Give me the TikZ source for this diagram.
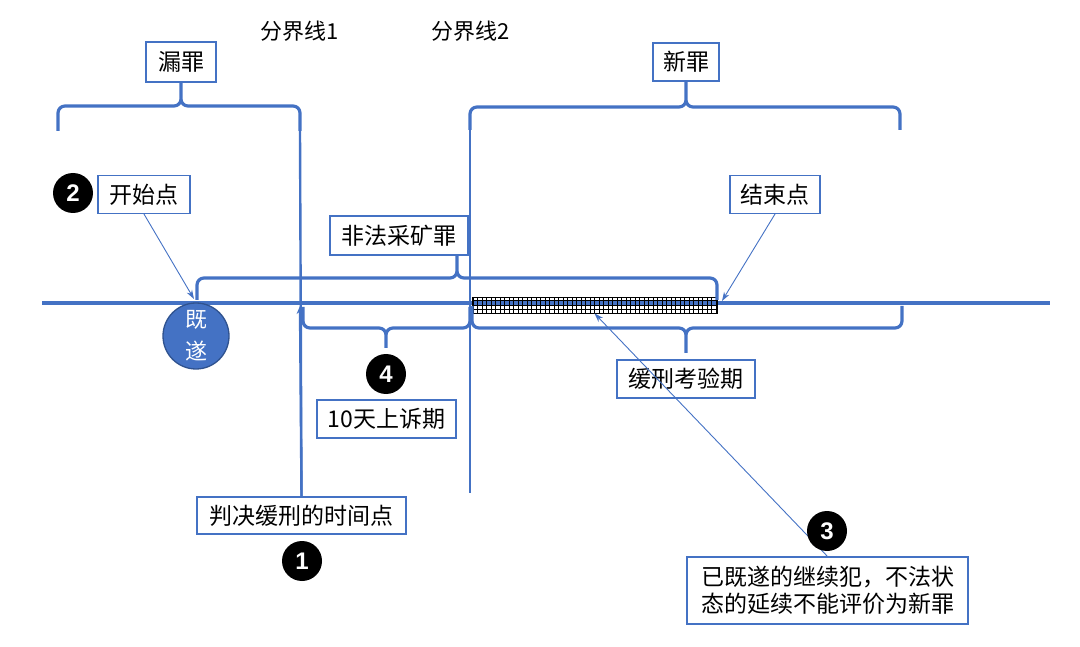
\documentclass[tikz,border=0pt]{standalone}
\usepackage{fontspec}
\setmainfont{Noto Sans CJK SC}
\newfontfamily\numfont{Liberation Sans}
\usetikzlibrary{arrows.meta}
\definecolor{lineblue}{HTML}{4472C4}
\definecolor{darkblue}{HTML}{2F528F}
\tikzset{
  box/.style={draw=lineblue, line width=1.1pt, fill=white, inner xsep=8, inner ysep=0, minimum height=38, font=\fontsize{23}{27}\selectfont},
  num/.style={circle, fill=black, minimum size=40, inner sep=0, text=white, font=\numfont\bfseries\fontsize{24}{24}\selectfont},
  brc/.style={draw=lineblue, line width=3.2pt, rounded corners=7pt},
  vline/.style={draw=lineblue, line width=2.4pt},
  ptr/.style={draw=lineblue, line width=0.9pt, -{Stealth[length=9pt,width=6pt]}},
}
\begin{document}
\begin{tikzpicture}[x=1pt,y=-1pt]
  \useasboundingbox (0,0) rectangle (1080,647);

  % time axis
  \coordinate (ml) at (42,303);
  \coordinate (mr) at (1050,303);
  \draw[lineblue, line width=3.8pt] (ml) -- (mr);

  % labels and boxes
  \node[font=\fontsize{22}{22}\selectfont] (fj1) at (300,31) {分界线1};
  \node[font=\fontsize{22}{22}\selectfont] (fj2) at (471,31) {分界线2};
  \node[box, minimum width=70, minimum height=40] (lz) at (181,62) {漏罪};
  \node[box, minimum width=66] (xz) at (686,62) {新罪};
  \node[box, minimum width=92] (ksd) at (144,194.5) {开始点};
  \node[box, minimum width=90] (jsd) at (775,194.5) {结束点};
  \node[box, minimum width=138, minimum height=39] (ffck) at (399,235.5) {非法采矿罪};
  \node[box, minimum width=139] (sscq) at (386.5,419) {10天上诉期};
  \node[box, minimum width=138] (hxkyq) at (686,379) {缓刑考验期};
  \node[box, minimum width=209, minimum height=37] (pjsj) at (301.5,515.5) {判决缓刑的时间点};
  \node[box, minimum width=281, minimum height=67, align=left] (jxf) at (827.5,590.5)
    {已既遂的继续犯，不法状\\态的延续不能评价为新罪};

  % probation span
  \node[draw=black, line width=0.8pt, minimum width=245, minimum height=16, inner sep=0,
    path picture={\draw[black, line width=0.5pt, step=4.5pt]
      (path picture bounding box.south west) grid (path picture bounding box.north east);}]
    (hatch) at (594.5,305) {};

  % braces
  \coordinate (lzL) at (58,131);
  \coordinate (lzR) at (300,131);
  \coordinate (lzbar) at (0,106);
  \draw[brc] (lzL) |- (lz.south |- lzbar) -- (lz.south)
             (lzR) |- (lz.south |- lzbar) -- (lz.south);

  \coordinate (xzL) at (470,130);
  \coordinate (xzR) at (900,130);
  \coordinate (xzbar) at (0,107);
  \draw[brc] (xzL) |- (xz.south |- xzbar) -- (xz.south)
             (xzR) |- (xz.south |- xzbar) -- (xz.south);

  \coordinate (ffL) at (197,300);
  \coordinate (ffR) at (717,300);
  \coordinate (fftip) at (457,255);
  \coordinate (ffbar) at (0,278);
  \draw[brc] (ffL) |- (fftip |- ffbar) -- (fftip)
             (ffR) |- (fftip |- ffbar) -- (fftip);

  \coordinate (ssL) at (303,307);
  \coordinate (ssR) at (470,307);
  \coordinate (sstip) at (386,348);
  \coordinate (ssbar) at (0,328);
  \draw[brc] (ssL) |- (sstip |- ssbar) -- (sstip)
             (ssR) |- (sstip |- ssbar) -- (sstip);

  \coordinate (hxL) at (472,306);
  \coordinate (hxR) at (902,306);
  \coordinate (hxtip) at (686,353);
  \coordinate (hxbar) at (0,328);
  \draw[brc] (hxL) |- (hxtip |- hxbar) -- (hxtip)
             (hxR) |- (hxtip |- hxbar) -- (hxtip);

  % dividing lines
  \coordinate (v2b) at (470,493);
  \coordinate (a1) at (300,306);
  \draw[vline] (lzR) -- (pjsj.north);
  \draw[vline] (xzL) -- (v2b);
  \draw[vline, -{Stealth[length=8pt,width=7pt]}] (pjsj.north) -- (a1);

  % pointers
  \coordinate (stt) at (194,299);
  \coordinate (edt) at (722,301);
  \draw[ptr] (ksd.south) -- (stt);
  \draw[ptr] (jsd.south) -- (edt);
  \draw[ptr] (jxf.north) -- (hatch.south);

  % accomplished point
  \node[circle, fill=lineblue, draw=darkblue, line width=1.3pt, minimum size=66, inner sep=0,
    text=white, align=center, font=\fontsize{22}{32}\selectfont] (js) at (196,336) {既\\遂};

  % numbers
  \node[num] (n1) at (302,561) {1};
  \node[num] (n2) at (73,193) {2};
  \node[num] (n3) at (827,531) {3};
  \node[num] (n4) at (386,374) {4};
\end{tikzpicture}
\end{document}
